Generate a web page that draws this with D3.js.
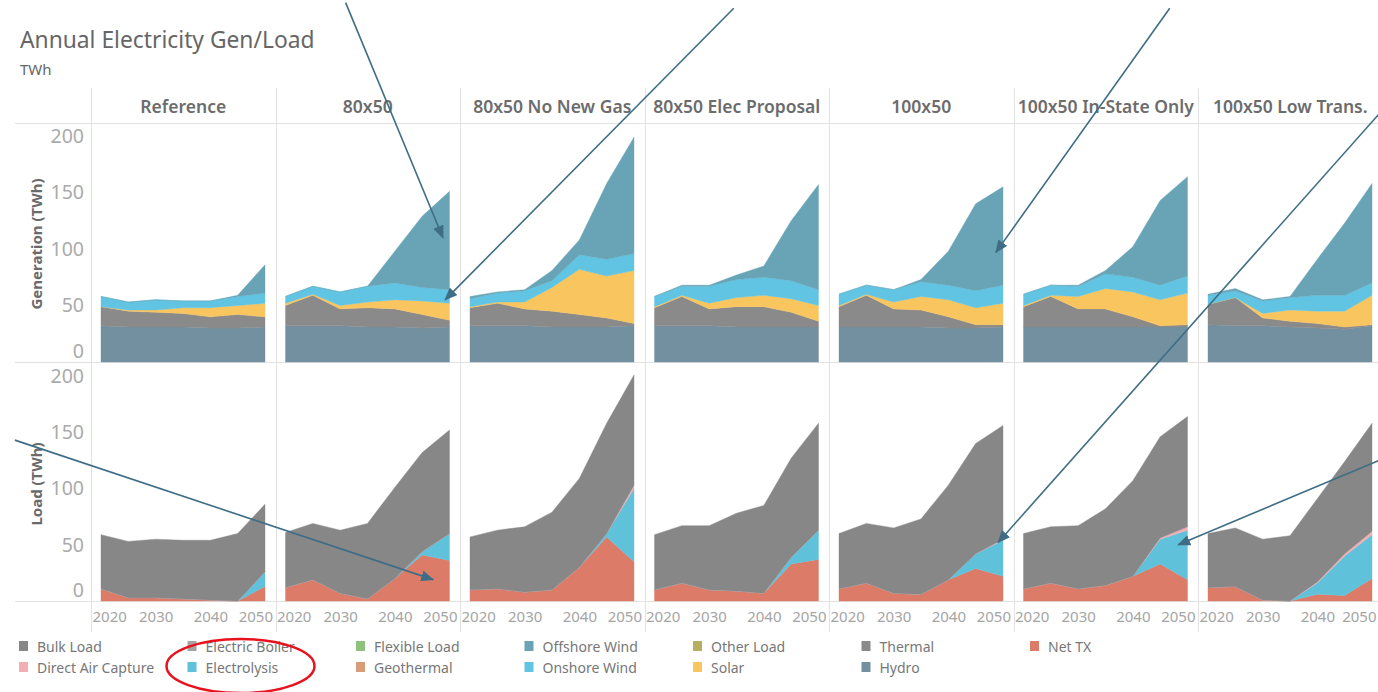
<!DOCTYPE html>
<html>
<head>
<meta charset="utf-8">
<script src="https://cdn.jsdelivr.net/npm/d3@7"></script>
<style>
	body { margin: 0; background: #fff; }
	svg { display: block; font-family: 'Noto Sans', 'Open Sans', sans-serif; }
</style>
</head>
<body>
<svg id="chart" width="1378" height="692"></svg>
<script>
// values, TWh, one row per scenario
const years = [2020, 2025, 2030, 2035, 2040, 2045, 2050]
const scenarios = ['Reference', '80x50', '80x50 No New Gas', '80x50 Elec Proposal', '100x50', '100x50 In-State Only', '100x50 Low Trans.']

const genHydro = [
	[32, 31, 31, 31, 30, 30, 31],
	[32, 32, 32, 31, 31, 30, 31],
	[32, 32, 32, 31, 31, 31, 32],
	[32, 32, 32, 31, 31, 31, 31],
	[31, 31, 31, 31, 30, 30, 31],
	[31, 31, 31, 31, 31, 31, 31],
	[33, 32, 32, 31, 30, 29, 32],
]
const genThermal = [
	[17, 14, 13, 12, 10, 12, 9],
	[18, 27, 15, 17, 16, 12, 6],
	[16, 20, 15, 14, 11, 8, 2],
	[16, 26, 15, 18, 18, 13, 5],
	[18, 28, 16, 15, 10, 3, 2],
	[18, 27, 16, 16, 9, 1, 2],
	[18, 25, 7, 5, 4, 2, 1],
]
const genSolar = [
	[0, 1, 2, 5, 8, 8, 12],
	[2, 1, 3, 5, 8, 12, 15],
	[1, 1, 6, 21, 40, 37, 47],
	[1, 1, 5, 8, 10, 12, 14],
	[1, 1, 6, 12, 15, 15, 19],
	[1, 1, 11, 18, 22, 23, 28],
	[0, 0, 4, 10, 11, 14, 26],
]
const genOnshore = [
	[9, 7, 9, 6, 6, 8, 9],
	[6, 7, 12, 14, 15, 12, 12],
	[7, 8, 10, 6, 13, 15, 15],
	[9, 8, 15, 16, 16, 16, 14],
	[10, 8, 11, 13, 13, 15, 16],
	[10, 9, 9, 13, 13, 13, 15],
	[8, 6, 11, 11, 14, 14, 11],
]
const genOffshore = [
	[0, 0, 0, 0, 0, 1, 25],
	[0, 0, 0, 0, 28, 63, 87],
	[2, 1, 1, 9, 13, 67, 103],
	[0, 1, 1, 4, 10, 53, 93],
	[0, 0, 0, 2, 30, 77, 87],
	[0, 0, 1, 3, 27, 75, 88],
	[1, 2, 1, 1, 32, 64, 88],
]

const loadNetTx = [
	[11, 3, 3, 2, 1, 0, 13],
	[12, 19, 7, 2, 20, 41, 36],
	[10, 11, 8, 10, 30, 57, 35],
	[10, 16, 10, 9, 7, 33, 37],
	[11, 16, 7, 6, 19, 29, 22],
	[11, 16, 11, 14, 22, 33, 19],
	[12, 13, 1, 0, 6, 5, 20],
]
const loadElectrolysis = [
	[0, 0, 0, 0, 0, 0, 13],
	[0, 0, 0, 0, 0, 3, 24],
	[0, 0, 0, 0, 0, 3, 65],
	[0, 0, 0, 0, 0, 6, 26],
	[0, 0, 0, 0, 0, 13, 32],
	[0, 0, 0, 0, 0, 22, 44],
	[0, 0, 0, 0, 10, 35, 39],
]
const loadDac = [
	[0, 0, 0, 0, 0, 0, 0],
	[0, 0, 0, 0, 0, 0, 0],
	[0, 0, 0, 0, 0, 0, 3],
	[0, 0, 0, 0, 0, 0, 0],
	[0, 0, 0, 0, 0, 0, 1],
	[0, 0, 0, 0, 0, 1, 3],
	[0, 0, 0, 0, 1, 2, 3],
]
const loadBulk = [
	[48, 50, 52, 52, 53, 60, 60],
	[49, 50, 56, 67, 81, 88, 92],
	[47, 52, 58, 69, 79, 98, 98],
	[49, 51, 57, 69, 78, 88, 95],
	[49, 53, 58, 67, 84, 98, 101],
	[49, 50, 56, 68, 85, 90, 98],
	[48, 52, 54, 58, 74, 82, 96],
]

const yTicks = [0, 50, 100, 150, 200]
const xTicks = [2020, 2030, 2040, 2050]

// legend, in Tableau's column-major order
const legendNames = ['Bulk Load', 'Direct Air Capture', 'Electric Boiler', 'Electrolysis', 'Flexible Load', 'Geothermal',
	'Offshore Wind', 'Onshore Wind', 'Other Load', 'Solar', 'Thermal', 'Hydro', 'Net TX']

// annotation arrows, given in the data units of the panel they point into
const arrowNotes = [
	{ scenario: '80x50', panel: 'gen', from: [2031, 318], to: [2048.8, 110] },
	{ scenario: '80x50', panel: 'gen', from: [2102, 313], to: [2049.2, 55] },
	{ scenario: '100x50', panel: 'gen', from: [2080.5, 313], to: [2048.7, 97] },
	{ scenario: '100x50', panel: 'load', from: [2121, 445], to: [2049.1, 52] },
	{ scenario: '100x50 In-State Only', panel: 'load', from: [2087, 129], to: [2048.3, 50] },
	{ scenario: '80x50', panel: 'load', from: [1970.5, 143], to: [2047, 19] },
]
const circledItem = 'Electrolysis'

const colors = {
	'Bulk Load': '#878787',
	'Direct Air Capture': '#f2aeb2',
	'Electric Boiler': '#a3a3a3',
	'Electrolysis': '#5fc2da',
	'Flexible Load': '#8ec17d',
	'Geothermal': '#d89c78',
	'Offshore Wind': '#68a4b6',
	'Onshore Wind': '#60c4e2',
	'Other Load': '#b9ae60',
	'Solar': '#f9c55f',
	'Thermal': '#8a8a8a',
	'Hydro': '#7390a0',
	'Net TX': '#dc7b68',
}

let config = {
	width: 1378,
	left: 91,
	colW: 184.5,
	headerTop: 88,
	headerBottom: 123,
	genBottom: 362,
	loadBottom: 601,
	gridColor: '#e2e2e2',
	arrowColor: '#3f6d85',
}

const svg = d3.select('#chart')

const genY = d3.scaleLinear().domain([0, 200]).range([362, 136])
const loadY = d3.scaleLinear().domain([0, 200]).range([601, 376])

function colLeft(i) {
	return config.left + i * config.colW
}

function xScaleFor(i) {
	return d3.scaleLinear()
		.domain([years[0], years[years.length - 1]])
		.range([colLeft(i) + 10, colLeft(i) + 174])
}

function drawTitle() {
	svg.append('text')
		.attr('x', 20).attr('y', 48)
		.attr('font-size', 22.8).attr('fill', '#666')
		.text('Annual Electricity Gen/Load')
	svg.append('text')
		.attr('x', 20).attr('y', 75)
		.attr('font-size', 15).attr('fill', '#666')
		.text('TWh')
}

function drawGrid() {
	let g = svg.append('g').attr('stroke', config.gridColor).attr('stroke-width', 1)
	;[config.headerBottom, config.genBottom, config.loadBottom].forEach(y => {
		g.append('line').attr('x1', 15).attr('x2', config.width).attr('y1', y + 0.5).attr('y2', y + 0.5)
	})
	for (let i = 0; i < scenarios.length; i++) {
		let x = Math.round(colLeft(i)) + 0.5
		g.append('line').attr('x1', x).attr('x2', x).attr('y1', config.headerTop).attr('y2', 632)
	}
}

function drawHeaders() {
	svg.append('g').selectAll('text')
		.data(scenarios)
		.join('text')
		.attr('x', (d, i) => colLeft(i) + config.colW / 2)
		.attr('y', 106)
		.attr('text-anchor', 'middle')
		.attr('dominant-baseline', 'central')
		.attr('font-size', 17.5)
		.attr('font-weight', 600)
		.attr('fill', '#6c6c6c')
		.text(d => d)
}

function makeRows(s, keys, series) {
	return years.map((yr, j) => {
		let row = { year: yr }
		keys.forEach((k, n) => { row[k] = series[n][s][j] })
		return row
	})
}

function drawPanels() {
	let genKeys = ['Hydro', 'Thermal', 'Solar', 'Onshore Wind', 'Offshore Wind']
	let genSeries = [genHydro, genThermal, genSolar, genOnshore, genOffshore]
	let loadKeys = ['Net TX', 'Electrolysis', 'Direct Air Capture', 'Bulk Load']
	let loadSeries = [loadNetTx, loadElectrolysis, loadDac, loadBulk]

	scenarios.forEach((name, s) => {
		let x = xScaleFor(s)
		let panels = [
			{ keys: genKeys, series: genSeries, y: genY },
			{ keys: loadKeys, series: loadSeries, y: loadY },
		]
		panels.forEach(p => {
			let stacked = d3.stack().keys(p.keys)(makeRows(s, p.keys, p.series))
			let area = d3.area()
				.x(d => x(d.data.year))
				.y0(d => p.y(d[0]))
				.y1(d => p.y(d[1]))
			svg.append('g')
				.selectAll('path')
				.data(stacked)
				.join('path')
				.attr('d', area)
				.attr('fill', d => colors[d.key])
				.attr('stroke', d => colors[d.key])
				.attr('stroke-width', 0.4)
		})

		// year axis under the load row
		let axisG = svg.append('g')
			.attr('transform', `translate(0, ${config.loadBottom + 2})`)
			.call(d3.axisBottom(x).tickValues(xTicks).tickFormat(d3.format('d')).tickSize(0).tickPadding(8))
		axisG.select('.domain').remove()
		axisG.selectAll('text')
			.attr('font-family', "'Noto Sans', sans-serif")
			.attr('font-size', 15)
			.attr('fill', '#a5a5a5')
			.each(function (d) {
				let w = this.getComputedTextLength()
				let left = x(d) - w / 2
				let minL = colLeft(s) + 1
				let maxR = Math.min(colLeft(s) + config.colW - 3, config.width - 2)
				let shift = 0
				if (left < minL) shift = minL - left
				if (left + w + shift > maxR) shift = maxR - (left + w)
				d3.select(this).attr('x', shift)
			})
	})
}

function drawValueAxes() {
	let rows = [
		{ y: genY, title: 'Generation (TWh)', mid: 244 },
		{ y: loadY, title: 'Load (TWh)', mid: 484 },
	]
	rows.forEach(r => {
		let g = svg.append('g')
			.attr('transform', `translate(${config.left}, 0)`)
			.call(d3.axisLeft(r.y).tickValues(yTicks).tickSize(0).tickPadding(7))
		g.select('.domain').remove()
		g.selectAll('text')
			.attr('font-family', "'Noto Sans', sans-serif")
			.attr('font-size', 19.5)
			.attr('fill', '#aaa')
			.attr('transform', d => d === 0 ? 'translate(0,-11)' : null)

		svg.append('text')
			.attr('transform', `translate(36, ${r.mid}) rotate(-90)`)
			.attr('text-anchor', 'middle')
			.attr('dominant-baseline', 'central')
			.attr('font-size', 15)
			.attr('font-weight', 700)
			.attr('fill', '#6a6a6a')
			.text(r.title)
	})
}

function legendPos(i) {
	return { x: 19 + Math.floor(i / 2) * 168.5, y: 646 + (i % 2) * 21 }
}

function drawLegend() {
	let items = svg.append('g').selectAll('g')
		.data(legendNames)
		.join('g')
		.attr('transform', (d, i) => `translate(${legendPos(i).x}, ${legendPos(i).y})`)
	items.append('rect')
		.attr('x', 0).attr('y', -5)
		.attr('width', 9).attr('height', 10)
		.attr('fill', d => colors[d])
	items.append('text')
		.attr('x', 18).attr('y', 0)
		.attr('dominant-baseline', 'central')
		.attr('font-size', 14)
		.attr('fill', '#777')
		.text(d => d)
}

function drawAnnotations() {
	svg.append('defs').append('marker')
		.attr('id', 'arrowhead')
		.attr('markerUnits', 'userSpaceOnUse')
		.attr('viewBox', '0 0 12 10')
		.attr('refX', 11).attr('refY', 5)
		.attr('markerWidth', 13).attr('markerHeight', 11)
		.attr('orient', 'auto')
		.append('path')
		.attr('d', 'M0,0L12,5L0,10Z')
		.attr('fill', config.arrowColor)

	arrowNotes.forEach(a => {
		let s = scenarios.indexOf(a.scenario)
		let x = xScaleFor(s)
		let y = a.panel === 'gen' ? genY : loadY
		svg.append('line')
			.attr('x1', x(a.from[0])).attr('y1', y(a.from[1]))
			.attr('x2', x(a.to[0])).attr('y2', y(a.to[1]))
			.attr('stroke', config.arrowColor)
			.attr('stroke-width', 1.6)
			.attr('marker-end', 'url(#arrowhead)')
	})

	let p = legendPos(legendNames.indexOf(circledItem))
	svg.append('ellipse')
		.attr('cx', p.x + 53).attr('cy', p.y - 1)
		.attr('rx', 74).attr('ry', 27)
		.attr('fill', 'none')
		.attr('stroke', '#e8121c')
		.attr('stroke-width', 2.5)
}

function app() {
	drawTitle()
	drawGrid()
	drawHeaders()
	drawPanels()
	drawValueAxes()
	drawLegend()
	drawAnnotations()
}

app()
</script>
</body>
</html>
